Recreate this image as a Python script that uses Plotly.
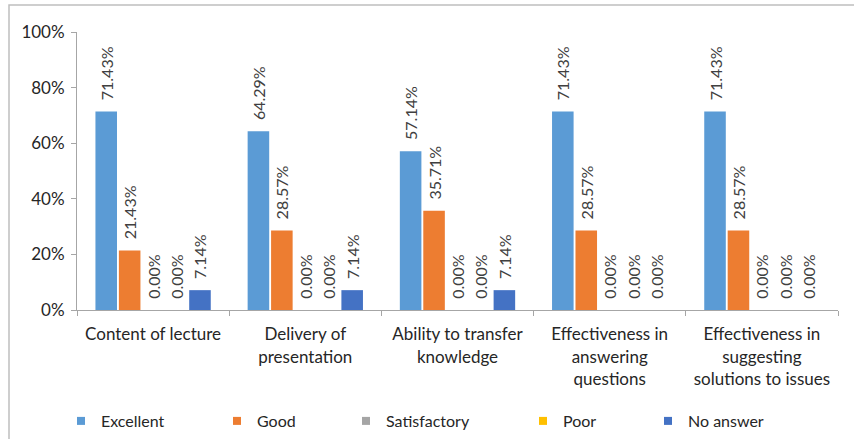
import plotly.graph_objects as go

categories = ["Content of lecture", "Delivery of<br>presentation", "Ability to transfer<br>knowledge",
              "Effectiveness in<br>answering<br>questions", "Effectiveness in<br>suggesting<br>solutions to issues"]
series_names = ["Excellent", "Good", "Satisfactory", "Poor", "No answer"]
excellent = [71.43, 64.29, 57.14, 71.43, 71.43]
good = [21.43, 28.57, 35.71, 28.57, 28.57]
satisfactory = [0.00, 0.00, 0.00, 0.00, 0.00]
poor = [0.00, 0.00, 0.00, 0.00, 0.00]
no_answer = [7.14, 7.14, 7.14, 0.00, 0.00]
colors = ["#5B9BD5", "#ED7D31", "#A5A5A5", "#FFC000", "#4472C4"]

font = "Lato, 'Liberation Sans', sans-serif"
PL, PR, PT, PB = 77, 838, 32, 310  # plot area in px
W, H = 854, 439
pw, ph = PR - PL, PB - PT

fig = go.Figure()
for name, vals, col in zip(series_names, [excellent, good, satisfactory, poor, no_answer], colors):
    fig.add_trace(go.Bar(
        x=categories, y=[v / 100 for v in vals], name=name,
        marker=dict(color=col, line=dict(width=0)),
        text=["\u00a0\u00a0" + f"{v:.2f}%" for v in vals], textposition="outside", textangle=-90,
        cliponaxis=False, showlegend=False, hoverinfo="skip",
        textfont=dict(family=font, size=16, color="#404040"),
    ))

# legend entries (one legend per series to reproduce spacing)
text_starts = [100, 256, 385, 562, 687]
legend_layout = {}
for i, (name, col, tx) in enumerate(zip(series_names, colors, text_starts)):
    key = "legend" if i == 0 else f"legend{i + 1}"
    fig.add_trace(go.Scatter(x=[None], y=[None], mode="markers", name=name, legend=key,
                             marker=dict(symbol="square", size=8, color=col)))
    legend_layout[key] = dict(orientation="h", x=(tx - 39 - PL) / pw, xanchor="left",
                              y=(PB - 421) / ph, yanchor="middle", bgcolor="rgba(0,0,0,0)",
                              font=dict(family=font, size=16, color="#262626"), itemwidth=30)

fig.update_layout(
    width=W, height=H,
    margin=dict(l=PL, r=W - PR, t=PT, b=H - PB, autoexpand=False),
    paper_bgcolor="white", plot_bgcolor="white",
    barmode="group", bargap=0.23, bargroupgap=0.08,
    uniformtext=dict(minsize=16, mode="show"),
    font=dict(family=font, size=16, color="#262626"),
    showlegend=True,
    yaxis=dict(range=[0, 1], tickformat=".0%", dtick=0.2, showgrid=False,
               showline=True, linecolor="#A6A6A6", linewidth=1,
               ticks="outside", ticklen=5, tickcolor="#A6A6A6", ticklabelstandoff=3,
               tickfont=dict(family=font, size=17, color="#262626"), zeroline=False),
    xaxis=dict(showline=True, linecolor="#A6A6A6", linewidth=1,
               ticks="outside", ticklen=5, tickcolor="#A6A6A6", tickson="boundaries",
               ticklabelstandoff=9,
               tickfont=dict(family=font, size=17, color="#262626")),
    shapes=[dict(type="rect", xref="paper", yref="paper",
                 x0=(9 - PL) / pw, x1=(W + 20 - PL) / pw, y0=(PB - H - 20) / ph, y1=(PB - 5) / ph,
                 line=dict(color="#BFBFBF", width=1.5), fillcolor="rgba(0,0,0,0)", layer="below")],
    **legend_layout,
)

fig.write_html("out.html", config={"displayModeBar": False},
               post_script="document.body.style.margin='0';")
